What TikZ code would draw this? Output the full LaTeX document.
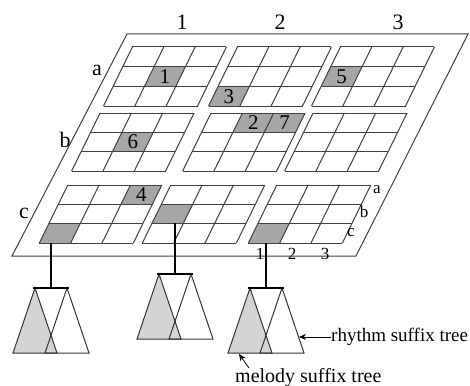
\documentclass[tikz,border=0pt]{standalone}
\usepackage{fontspec}
\setmainfont{Liberation Serif}
\usetikzlibrary{arrows.meta}
\newcommand\skblock[3]{%
  \foreach \k in {0,1,2,3}{%
    \draw[gridline] ({#1+\k*94/3},{#2}) -- ({#1+\k*94/3},{#3});
    \draw[gridline] ({#1},{(#2)+\k*((#3)-(#2))/3}) -- ({#1+94},{(#2)+\k*((#3)-(#2))/3});
  }}
\newcommand\skcell[5]{%
  \fill[cellfill] ({#1+(#5-1)*94/3},{(#2)+(#4-1)*((#3)-(#2))/3}) rectangle ({#1+#5*94/3},{(#2)+#4*((#3)-(#2))/3});}
\newcommand\skcelltext[8]{%
  \path ({#1+(#5-0.5)*94/3},{(#2)+(#4-0.5)*((#3)-(#2))/3}) node[celllbl] (#6) {#7};}
\newcommand\sktree[3]{%
  \fill[white] ({#1+16},{#2}) -- ({#1-6},{#2+65}) -- ({#1+38},{#2+65}) -- cycle;
  \fill[treefill] ({#1-16},{#2}) -- ({#1-38},{#2+65}) -- ({#1+6},{#2+65}) -- cycle;
  \draw[treeline] ({#1+16},{#2}) -- ({#1-6},{#2+65}) -- ({#1+38},{#2+65}) -- cycle;
  \draw[treeline] ({#1-16},{#2}) -- ({#1-38},{#2+65}) -- ({#1+6},{#2+65}) -- cycle;
  \coordinate (#3) at (#1,#2);
  \draw[stem] ({#1-18},{#2}) -- ({#1+18},{#2});}
\begin{document}
\begin{tikzpicture}[x=1pt,y=-1pt,
  gridline/.style={draw=black!75, line width=1pt},
  frame/.style={draw=black!75, line width=1pt},
  cellfill/.style={fill=black!35},
  treefill/.style={fill=black!17},
  treeline/.style={draw=black!80, line width=1pt, line join=miter},
  stem/.style={draw=black, line width=1.7pt},
  biglbl/.style={font=\fontsize{22}{22}\selectfont, inner sep=0pt},
  celllbl/.style={font=\fontsize{21}{21}\selectfont, inner sep=0pt},
  smalllbl/.style={font=\fontsize{17}{17}\selectfont, inner sep=0pt},
  annot/.style={font=\fontsize{19}{19}\selectfont, inner sep=0pt},
  annotb/.style={font=\fontsize{20}{20}\selectfont, inner sep=0pt},
  pointer/.style={draw=black, line width=0.8pt, -{Stealth[length=7pt,width=6pt]}}]
\useasboundingbox (0,0) rectangle (470,385);
\fill[white] (0,0) rectangle (470,385);
% big frame
\draw[frame] (12,256) -- (356,256) -- (468,34) -- (127,34) -- cycle;
\begin{scope}[shift={(12,256)}, xslant=0.49]
  % shaded cells
  \skcell{18}{-209}{-150}{2}{2}
  \skcell{123}{-209}{-150}{3}{1}
  \skcell{226}{-209}{-150}{2}{1}
  \skcell{18}{-143}{-85}{2}{2}
  \skcell{129}{-143}{-85}{1}{2}
  \skcell{129}{-143}{-85}{1}{3}
  \skcell{21}{-71}{-13}{1}{3}
  \skcell{21}{-71}{-13}{3}{1}
  \skcell{124}{-71}{-13}{2}{1}
  \skcell{230}{-71}{-13}{3}{1}
  % grids
  \skblock{18}{-209}{-150}
  \skblock{123}{-209}{-150}
  \skblock{226}{-209}{-150}
  \skblock{18}{-143}{-85}
  \skblock{129}{-143}{-85}
  \skblock{231}{-143}{-85}
  \skblock{21}{-71}{-13}
  \skblock{124}{-71}{-13}
  \skblock{230}{-71}{-13}
  % cell labels
  \skcelltext{18}{-209}{-150}{2}{2}{n1}{1}{}
  \skcelltext{123}{-209}{-150}{3}{1}{n3}{3}{}
  \skcelltext{226}{-209}{-150}{2}{1}{n5}{5}{}
  \skcelltext{18}{-143}{-85}{2}{2}{n6}{6}{}
  \skcelltext{129}{-143}{-85}{1}{2}{n2}{2}{}
  \skcelltext{129}{-143}{-85}{1}{3}{n7}{7}{}
  \skcelltext{21}{-71}{-13}{1}{3}{n4}{4}{}
\end{scope}
\coordinate (c1s) at (51,243);
\coordinate (c2s) at (175,223);
\coordinate (c3s) at (266,243);
% labels
\node[biglbl] (col1) at (182,22) {1};
\node[biglbl] (col2) at (280,22) {2};
\node[biglbl] (col3) at (398,22) {3};
\node[biglbl] (rowa) at (97,70) {a};
\node[biglbl] (rowb) at (65,140) {b};
\node[biglbl] (rowc) at (24,213) {c};
\node[smalllbl] (sa) at (377,190) {a};
\node[smalllbl] (sb) at (364,212) {b};
\node[smalllbl] (sc) at (351,233) {c};
\node[smalllbl] (s1) at (260,254) {1};
\node[smalllbl] (s2) at (292,254) {2};
\node[smalllbl] (s3) at (325,254) {3};
% trees
\sktree{51}{288}{t1}
\sktree{175}{274}{t2}
\sktree{266}{288}{t3}
\draw[stem] (c1s) -- (t1);
\draw[stem] (c2s) -- (t2);
\draw[stem] (c3s) -- (t3);
% annotations
\node[annot, anchor=base west] (rh) at (331,341) {rhythm suffix tree};
\node[annotb, anchor=base west] (me) at (235,382) {melody suffix tree};
\coordinate (rhtip) at (299,337);
\coordinate (metip) at (239,354);
\coordinate (mestart) at (249,368);
\draw[pointer] (rh.west |- rhtip) -- (rhtip);
\draw[pointer] (mestart) -- (metip);
\end{tikzpicture}
\end{document}
